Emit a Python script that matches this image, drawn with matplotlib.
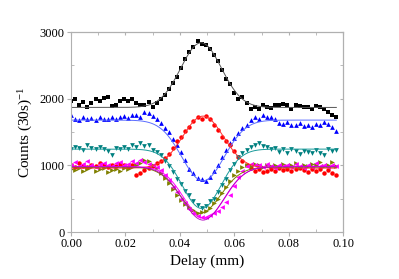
import numpy as np
import matplotlib
matplotlib.use('Agg')
import matplotlib.pyplot as plt
from matplotlib.ticker import MultipleLocator, NullFormatter

plt.rcParams['font.family'] = ['Liberation Serif', 'DejaVu Serif']
plt.rcParams['mathtext.fontset'] = 'stix'

# delay positions (mm)
delay = [0.0, 0.0015, 0.003, 0.0045, 0.006, 0.0075, 0.009, 0.0105, 0.012, 0.0135,
         0.015, 0.0165, 0.018, 0.0195, 0.021, 0.0225, 0.024, 0.0255, 0.027, 0.0285,
         0.03, 0.0315, 0.033, 0.0345, 0.036, 0.0375, 0.039, 0.0405, 0.042, 0.0435,
         0.045, 0.0465, 0.048, 0.0495, 0.051, 0.0525, 0.054, 0.0555, 0.057, 0.0585,
         0.06, 0.0615, 0.063, 0.0645, 0.066, 0.0675, 0.069, 0.0705, 0.072, 0.0735,
         0.075, 0.0765, 0.078, 0.0795, 0.081, 0.0825, 0.084, 0.0855, 0.087, 0.0885,
         0.09, 0.0915, 0.093, 0.0945, 0.096, 0.0975]

black_counts = [1960, 1990, 1900, 1950, 1880, 1940, 1990, 1960, 2010, 2030,
                1890, 1900, 1960, 1990, 1970, 2000, 1930, 1910, 1900, 1950,
                1880, 1930, 1990, 2050, 2150, 2230, 2330, 2460, 2590, 2700,
                2780, 2870, 2820, 2800, 2750, 2650, 2560, 2430, 2300, 2220,
                2080, 1990, 2020, 1930, 1840, 1880, 1850, 1900, 1880, 1860,
                1900, 1910, 1920, 1910, 1850, 1910, 1890, 1880, 1870, 1850,
                1890, 1880, 1840, 1800, 1760, 1730]

blue_counts = [1760, 1700, 1680, 1720, 1690, 1710, 1680, 1720, 1700, 1690,
               1730, 1700, 1720, 1740, 1710, 1750, 1760, 1730, 1800, 1780,
               1740, 1700, 1640, 1560, 1500, 1400, 1300, 1200, 1080, 950,
               880, 810, 790, 760, 830, 920, 1010, 1120, 1230, 1330,
               1410, 1480, 1560, 1600, 1680, 1720, 1700, 1760, 1730, 1720,
               1700, 1640, 1620, 1650, 1610, 1600, 1630, 1590, 1610, 1570,
               1620, 1600, 1650, 1620, 1580, 1510]

red_counts = [1000, 980, 1040, 990, 970, 1010, 990, 1030, 1000, 980,
              1010, 990, 1020, 1000, 970, 1000, 860, 890, 930, 960,
              990, 1040, 1060, 1110, 1170, 1260, 1360, 1430, 1520, 1580,
              1660, 1730, 1700, 1740, 1690, 1600, 1530, 1430, 1360, 1300,
              1210, 1130, 1070, 1000, 960, 920, 950, 900, 920, 940,
              910, 960, 930, 950, 920, 940, 960, 930, 900, 940,
              920, 950, 890, 930, 880, 860]

teal_counts = [1250, 1280, 1260, 1230, 1300, 1260, 1240, 1270, 1250, 1220,
               1150, 1260, 1240, 1280, 1250, 1300, 1270, 1330, 1290, 1310,
               1230, 1200, 1150, 1060, 990, 900, 800, 720, 620, 560,
               460, 400, 360, 390, 470, 500, 600, 700, 800, 930,
               1020, 1130, 1180, 1230, 1280, 1310, 1340, 1290, 1270, 1250,
               1260, 1200, 1240, 1190, 1250, 1210, 1170, 1220, 1200, 1180,
               1230, 1190, 1160, 1240, 1210, 1230]

magenta_counts = [1000, 1050, 990, 1020, 1060, 1000, 980, 1020, 1040, 1010,
                  990, 1030, 1050, 1000, 1020, 1060, 1040, 1080, 1050, 1020,
                  1010, 980, 930, 860, 780, 680, 600, 500, 430, 350,
                  290, 240, 220, 230, 250, 280, 310, 380, 450, 560,
                  690, 820, 920, 990, 1020, 1000, 1010, 980, 1020, 990,
                  960, 1010, 990, 1000, 970, 1020, 990, 960, 1000, 980,
                  1030, 990, 1000, 970, 1010, 990]

olive_counts = [950, 930, 960, 910, 950, 970, 920, 940, 960, 900,
                930, 950, 920, 960, 940, 980, 1010, 1040, 1080, 1060,
                1000, 960, 890, 810, 730, 640, 560, 480, 420, 370,
                330, 290, 300, 320, 360, 430, 500, 580, 680, 760,
                850, 920, 970, 1000, 990, 1020, 1000, 970, 1010, 990,
                1000, 980, 1020, 990, 1000, 1040, 980, 1010, 990, 1020,
                1000, 1050, 990, 1010, 1050, 990]

# gaussian fit parameters: baseline, amplitude, centre, sigma
fit_black = (1870, 970, 0.0478, 0.0075)
fit_blue = (1680, -910, 0.0485, 0.0078)
fit_red = (960, 780, 0.0485, 0.0075)
fit_teal = (1245, -890, 0.0480, 0.0072)
fit_olive = (975, -690, 0.0475, 0.0075)
fit_magenta = (985, -780, 0.0490, 0.0075)
fit_purple = (980, -800, 0.0485, 0.0076)


def gauss(x, p):
    base, amp, c, s = p
    return base + amp * np.exp(-(x - c) ** 2 / (2 * s ** 2))


fig = plt.figure(figsize=(3.99, 2.79), dpi=100)
ax = fig.add_axes([0.178, 0.168, 0.682, 0.717])

xs = np.linspace(0.0, 0.0975, 300)
x = np.array(delay)

series = [
    (black_counts, fit_black, '#000000', '#555555', 's', 3.0),
    (blue_counts, fit_blue, '#0000ff', '#5a6cff', '^', 3.4),
    (red_counts, fit_red, '#ff0000', '#ff3030', 'o', 3.2),
    (teal_counts, fit_teal, '#008080', '#1a9a9a', 'v', 3.4),
    (olive_counts, fit_olive, '#808000', '#808000', '>', 3.4),
    (magenta_counts, fit_magenta, '#ff00ff', '#ff00ff', '<', 3.4),
]

for counts, fit, col, lcol, mk, ms in series:
    ax.plot(x, counts, linestyle='none', marker=mk, color=col, markersize=ms,
            markeredgewidth=0)
for counts, fit, col, lcol, mk, ms in series:
    ax.plot(xs, gauss(xs, fit), color=lcol, linewidth=0.7)
ax.plot(xs, gauss(xs, fit_purple), color='#b000c0', linewidth=0.6)

ax.set_xlim(0, 0.1)
ax.set_ylim(0, 3000)
ax.xaxis.set_major_locator(MultipleLocator(0.02))
ax.xaxis.set_minor_locator(MultipleLocator(0.01))
ax.yaxis.set_major_locator(MultipleLocator(1000))
ax.yaxis.set_minor_locator(MultipleLocator(500))
ax.xaxis.set_major_formatter(matplotlib.ticker.FormatStrFormatter('%.2f'))

for sp in ax.spines.values():
    sp.set_color('#b0b0b0')
    sp.set_linewidth(0.8)
ax.tick_params(which='major', direction='out', length=3, color='#b0b0b0',
               labelsize=9, pad=1.5)
ax.tick_params(which='minor', direction='in', length=2, color='#b0b0b0')

top = ax.secondary_xaxis('top')
top.xaxis.set_major_locator(MultipleLocator(0.02))
top.xaxis.set_minor_locator(MultipleLocator(0.01))
top.xaxis.set_major_formatter(NullFormatter())
top.tick_params(which='both', direction='in', length=2.5, color='#b0b0b0')
top.spines['top'].set_color('#b0b0b0')

right = ax.secondary_yaxis('right')
right.yaxis.set_major_locator(MultipleLocator(1000))
right.yaxis.set_minor_locator(MultipleLocator(500))
right.yaxis.set_major_formatter(NullFormatter())
right.tick_params(which='both', direction='in', length=2.5, color='#b0b0b0')
right.spines['right'].set_color('#b0b0b0')

ax.set_xlabel('Delay (mm)', fontsize=11, labelpad=3)
ax.set_ylabel('Counts (30s)$^{\\mathregular{-1}}$', fontsize=11, labelpad=4)

fig.savefig('out.png', dpi=100)
